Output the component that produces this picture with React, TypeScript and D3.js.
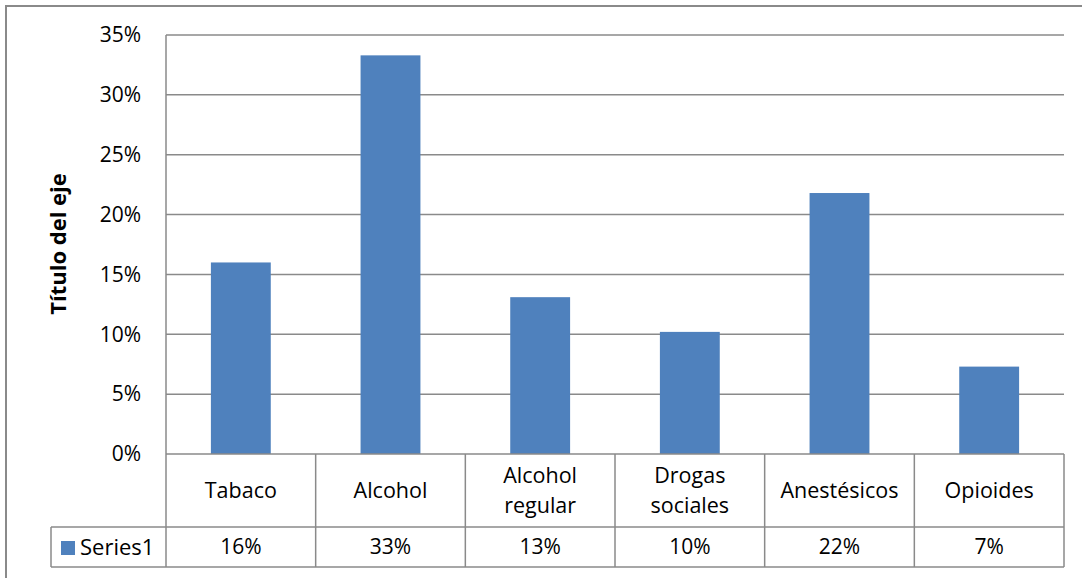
import React from "react";
import * as d3 from "d3";

const categories: string[][] = [["Tabaco"], ["Alcohol"], ["Alcohol", "regular"], ["Drogas", "sociales"], ["Anestésicos"], ["Opioides"]];
const values: number[] = [0.16, 0.333, 0.131, 0.102, 0.218, 0.073];
const tableLabels: string[] = ["16%", "33%", "13%", "10%", "22%", "7%"];
const yTicks: number[] = [0, 0.05, 0.1, 0.15, 0.2, 0.25, 0.3, 0.35];
const seriesName = "Series1";
const axisTitle = "Título del eje";

export default function App() {
  const W = 1082, H = 578;
  const left = 166, right = 1064, top = 35, bottom = 454;
  const row1 = 527, row2 = 567, legendLeft = 51;
  const font = "'Open Sans', sans-serif";
  const grid = "#8a8a8a";
  const x = d3.scaleBand<number>().domain(d3.range(categories.length)).range([left, right]).paddingInner(0.6).paddingOuter(0.3);
  const xc = d3.scaleBand<number>().domain(d3.range(categories.length)).range([left, right]);
  const y = d3.scaleLinear().domain([0, 0.35]).range([bottom, top]);
  const fmt = d3.format(".0%");
  return (
    <svg width={W} height={H} style={{ position: "absolute", left: 0, top: 0 }}>
      <rect x={0} y={0} width={W} height={H} fill="#fff" />
      <rect x={6} y={6} width={W + 10} height={H + 10} fill="none" stroke="#8a8a8a" strokeWidth={2} />
      {yTicks.map((t) => (
        <g key={t}>
          {t > 0 && <line x1={left} x2={right} y1={y(t)} y2={y(t)} stroke={grid} strokeWidth={1.5} />}
          <text x={141} y={y(t)} dy="0.35em" textAnchor="end" fontFamily={font} fontSize={21} fill="#000">{fmt(t)}</text>
        </g>
      ))}
      {values.map((v, i) => (
        <rect key={i} x={x(i)} y={y(v)} width={x.bandwidth()} height={bottom - y(v)} fill="#4F81BD" />
      ))}
      <line x1={left} x2={left} y1={top} y2={row2} stroke={grid} strokeWidth={1.5} />
      <line x1={left} x2={right} y1={bottom} y2={bottom} stroke={grid} strokeWidth={1.5} />
      <line x1={right} x2={right} y1={bottom} y2={row2} stroke={grid} strokeWidth={1.5} />
      <line x1={legendLeft} x2={right} y1={row1} y2={row1} stroke={grid} strokeWidth={1.5} />
      <line x1={legendLeft} x2={right} y1={row2} y2={row2} stroke={grid} strokeWidth={1.5} />
      <line x1={legendLeft} x2={legendLeft} y1={row1} y2={row2} stroke={grid} strokeWidth={1.5} />
      {categories.map((c, i) => {
        const cx = (xc(i) as number) + xc.bandwidth() / 2;
        const midY = (bottom + row1) / 2;
        return (
          <g key={i}>
            {i > 0 && <line x1={xc(i)} x2={xc(i)} y1={bottom} y2={row2} stroke={grid} strokeWidth={1.5} />}
            {c.map((line, j) => (
              <text key={j} x={cx} y={midY + (j - (c.length - 1) / 2) * 30} dy="0.35em" textAnchor="middle" fontFamily={font} fontSize={21.5} fill="#000">{line}</text>
            ))}
            <text x={cx} y={(row1 + row2) / 2} dy="0.35em" textAnchor="middle" fontFamily={font} fontSize={21} fill="#000">{tableLabels[i]}</text>
          </g>
        );
      })}
      <rect x={61} y={541} width={14} height={14} fill="#4F81BD" />
      <text x={80} y={(row1 + row2) / 2} dy="0.35em" fontFamily={font} fontSize={22} fill="#000">{seriesName}</text>
      <text transform={`translate(58,244) rotate(-90)`} textAnchor="middle" dy="0.35em" fontFamily={font} fontSize={22} fontWeight="bold" fill="#000">{axisTitle}</text>
    </svg>
  );
}
